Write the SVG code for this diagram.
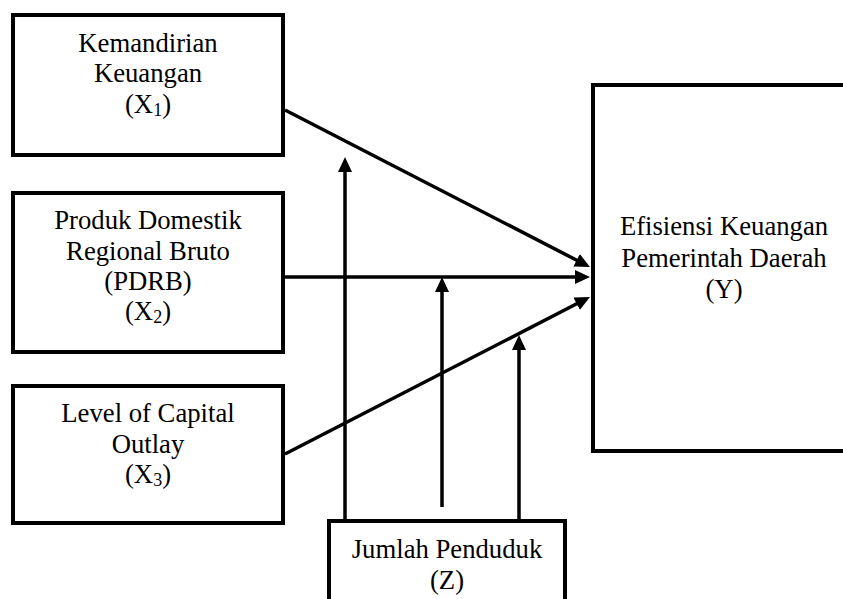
<svg xmlns="http://www.w3.org/2000/svg" width="843" height="599" viewBox="0 0 843 599">
  <style>
    .box { fill: #fff; stroke: #000; stroke-width: 4; }
    .lbl { font-family: "Liberation Serif", "Times New Roman", serif; font-size: 26.7px; fill: #000; text-anchor: middle; }
    .sub { font-size: 18px; }
    .conn { stroke: #000; stroke-width: 3.5; fill: none; marker-end: url(#arr); }
  </style>
  <defs>
    <marker id="arr" markerUnits="userSpaceOnUse" markerWidth="16" markerHeight="15" refX="11" refY="7" orient="auto">
      <path d="M0,0 L15,7 L0,14 z" fill="#000"/>
    </marker>
  </defs>
  <rect width="843" height="599" fill="#fff"/>

  <g id="node-x1">
    <rect class="box" x="13" y="15" width="270" height="140"/>
    <text class="lbl" x="148" y="52">Kemandirian</text>
    <text class="lbl" x="148" y="82">Keuangan</text>
    <text class="lbl" x="148" y="113">(X<tspan class="sub" dy="3">1</tspan><tspan dy="-3">)</tspan></text>
  </g>

  <g id="node-x2">
    <rect class="box" x="13" y="193" width="270" height="159"/>
    <text class="lbl" x="148" y="229">Produk Domestik</text>
    <text class="lbl" x="148" y="260">Regional Bruto</text>
    <text class="lbl" x="148" y="290">(PDRB)</text>
    <text class="lbl" x="148" y="320">(X<tspan class="sub" dy="3">2</tspan><tspan dy="-3">)</tspan></text>
  </g>

  <g id="node-x3">
    <rect class="box" x="13" y="386" width="270" height="137"/>
    <text class="lbl" x="148" y="422">Level of Capital</text>
    <text class="lbl" x="148" y="453">Outlay</text>
    <text class="lbl" x="148" y="483">(X<tspan class="sub" dy="3">3</tspan><tspan dy="-3">)</tspan></text>
  </g>

  <g id="node-y">
    <rect class="box" x="593" y="85" width="262" height="366"/>
    <text class="lbl" x="724" y="235">Efisiensi Keuangan</text>
    <text class="lbl" x="724" y="267">Pemerintah Daerah</text>
    <text class="lbl" x="724" y="298">(Y)</text>
  </g>

  <g id="connectors">
    <line class="conn" x1="285" y1="110" x2="586.4" y2="265.2"/>
    <line class="conn" x1="285" y1="277" x2="586" y2="277"/>
    <line class="conn" x1="285" y1="454" x2="586.4" y2="298.8"/>
    <line class="conn" x1="345" y1="524" x2="345" y2="161"/>
    <line class="conn" x1="442" y1="507" x2="442" y2="281"/>
    <line class="conn" x1="519" y1="521" x2="519" y2="339"/>
  </g>

  <g id="node-z">
    <rect class="box" x="329" y="521" width="236" height="100"/>
    <text class="lbl" x="447" y="558">Jumlah Penduduk</text>
    <text class="lbl" x="447" y="589">(Z)</text>
  </g>
</svg>
